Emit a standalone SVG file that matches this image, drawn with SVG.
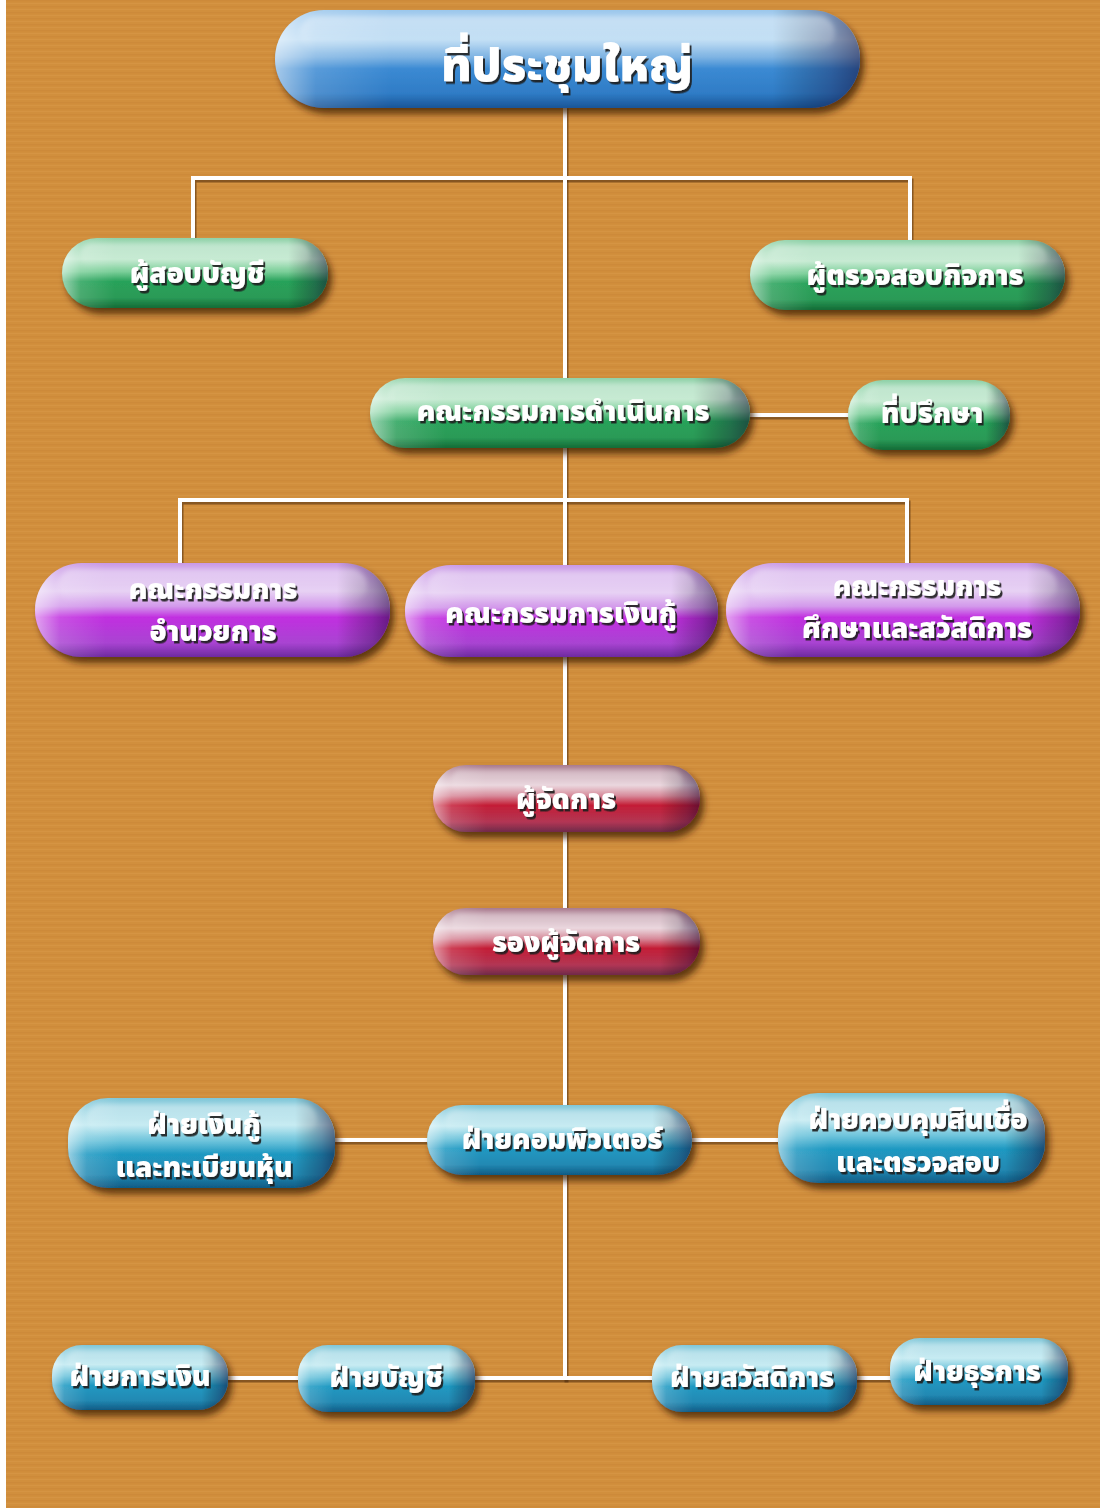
<svg xmlns="http://www.w3.org/2000/svg" width="1100" height="1508" viewBox="0 0 1100 1508">
  <defs>
    <!-- fine horizontal grain on the backdrop -->
    <pattern id="grain" width="40" height="6" patternUnits="userSpaceOnUse">
      <rect width="40" height="6" fill="#d18f3d"/>
      <rect y="0" width="40" height="1.5" fill="#c98637" opacity="0.55"/>
      <rect y="3" width="40" height="1" fill="#d9994a" opacity="0.5"/>
    </pattern>

    <filter id="drop" x="-10%" y="-20%" width="125%" height="160%">
      <feDropShadow dx="4" dy="6" stdDeviation="3.5" flood-color="#3a1e05" flood-opacity="0.75"/>
    </filter>
    <filter id="txtsh" x="-10%" y="-20%" width="120%" height="150%">
      <feDropShadow dx="2" dy="2.5" stdDeviation="0.6" flood-color="#1a1a1a" flood-opacity="0.9"/>
    </filter>
    <filter id="soft" x="-10%" y="-40%" width="120%" height="180%">
      <feGaussianBlur stdDeviation="2.5"/>
    </filter>

    <!-- body gradients, one per colour family -->
    <linearGradient id="gBlue" x1="0" y1="0" x2="0" y2="1">
      <stop offset="0" stop-color="#9cc7ec"/>
      <stop offset="0.3" stop-color="#b9daf3"/>
      <stop offset="0.48" stop-color="#7fb4e3"/>
      <stop offset="0.6" stop-color="#3b8ad3"/>
      <stop offset="0.85" stop-color="#2f7cc6"/>
      <stop offset="1" stop-color="#1b5597"/>
    </linearGradient>
    <linearGradient id="gGreen" x1="0" y1="0" x2="0" y2="1">
      <stop offset="0" stop-color="#8fd1a8"/>
      <stop offset="0.3" stop-color="#bde7cb"/>
      <stop offset="0.48" stop-color="#7ccf9a"/>
      <stop offset="0.62" stop-color="#28a25a"/>
      <stop offset="0.85" stop-color="#2a9a57"/>
      <stop offset="1" stop-color="#136b36"/>
    </linearGradient>
    <linearGradient id="gPurple" x1="0" y1="0" x2="0" y2="1">
      <stop offset="0" stop-color="#c99ae6"/>
      <stop offset="0.3" stop-color="#e3c9f2"/>
      <stop offset="0.46" stop-color="#d39aeb"/>
      <stop offset="0.58" stop-color="#c12fe0"/>
      <stop offset="0.85" stop-color="#a944d2"/>
      <stop offset="1" stop-color="#6e2aa0"/>
    </linearGradient>
    <linearGradient id="gRed" x1="0" y1="0" x2="0" y2="1">
      <stop offset="0" stop-color="#a8798d"/>
      <stop offset="0.3" stop-color="#e7d0d8"/>
      <stop offset="0.46" stop-color="#d78a9a"/>
      <stop offset="0.6" stop-color="#c41d36"/>
      <stop offset="0.85" stop-color="#b23654"/>
      <stop offset="1" stop-color="#6f2a4a"/>
    </linearGradient>
    <linearGradient id="gCyan" x1="0" y1="0" x2="0" y2="1">
      <stop offset="0" stop-color="#7fc6d8"/>
      <stop offset="0.3" stop-color="#bde8f0"/>
      <stop offset="0.48" stop-color="#6cc3db"/>
      <stop offset="0.62" stop-color="#1f99c2"/>
      <stop offset="0.85" stop-color="#2289b3"/>
      <stop offset="1" stop-color="#0f5b85"/>
    </linearGradient>

    <!-- side shading: pale glint on the left cap, deep shade on the right cap -->
    <linearGradient id="sides" x1="0" y1="0" x2="1" y2="0">
      <stop offset="0" stop-color="#ffffff" stop-opacity="0.55"/>
      <stop offset="0.07" stop-color="#ffffff" stop-opacity="0.15"/>
      <stop offset="0.2" stop-color="#ffffff" stop-opacity="0"/>
      <stop offset="0.85" stop-color="#000000" stop-opacity="0"/>
      <stop offset="0.95" stop-color="#10002a" stop-opacity="0.3"/>
      <stop offset="1" stop-color="#10002a" stop-opacity="0.5"/>
    </linearGradient>
    <linearGradient id="gloss" x1="0" y1="0" x2="0" y2="1">
      <stop offset="0" stop-color="#ffffff" stop-opacity="0.4"/>
      <stop offset="1" stop-color="#ffffff" stop-opacity="0.04"/>
    </linearGradient>

    <style>
      .line { fill: none; stroke: #ffffff; stroke-width: 4; stroke-linecap: square; }
      .lineSh { fill: none; stroke: #4a2a0c; stroke-width: 4; stroke-opacity: 0.55; stroke-linecap: square; }
      .sides { fill: url(#sides); }
      .gloss { fill: url(#gloss); filter: url(#soft); }
      .lbl { fill: #ffffff; font-family: "Noto Sans Thai", "Tahoma", "DejaVu Sans", "Noto Sans", sans-serif; font-weight: 900; text-anchor: middle; filter: url(#txtsh); }
      .xl { font-size: 46px; }
      .md { font-size: 28px; }
    </style>
  </defs>

  <!-- backdrop -->
  <rect width="1100" height="1508" fill="#ffffff"/>
  <rect x="6" y="0" width="1094" height="1508" fill="url(#grain)"/>

  <!-- connectors -->
  <g id="connectors">
    <g transform="translate(1.5,2.5)">
      <path class="lineSh" d="M565 108 V1378"/>
      <path class="lineSh" d="M193 240 V178 H910 V240"/>
      <path class="lineSh" d="M750 415 H850"/>
      <path class="lineSh" d="M180 565 V500 H907 V565"/>
      <path class="lineSh" d="M335 1140 H780"/>
      <path class="lineSh" d="M228 1378 H892"/>
    </g>
    <path class="line" d="M565 108 V1378"/>
    <path class="line" d="M193 240 V178 H910 V240"/>
    <path class="line" d="M750 415 H850"/>
    <path class="line" d="M180 565 V500 H907 V565"/>
    <path class="line" d="M335 1140 H780"/>
    <path class="line" d="M228 1378 H892"/>
  </g>

  <!-- top: general meeting -->
  <g id="n-general-meeting">
    <rect x="275" y="10" width="585" height="98" rx="49" fill="url(#gBlue)" filter="url(#drop)"/>
    <rect x="275" y="10" width="585" height="98" rx="49" class="sides"/>
    <rect x="300" y="16" width="535" height="34" rx="17" class="gloss"/>
    <text class="lbl xl" x="567" y="81">ที่ประชุมใหญ่</text>
  </g>

  <g id="n-auditor">
    <rect x="62" y="238" width="266" height="70" rx="35" fill="url(#gGreen)" filter="url(#drop)"/>
    <rect x="62" y="238" width="266" height="70" rx="35" class="sides"/>
    <rect x="80" y="243" width="230" height="24" rx="12" class="gloss"/>
    <text class="lbl md" x="197" y="283">ผู้สอบบัญชี</text>
  </g>

  <g id="n-inspector">
    <rect x="750" y="240" width="315" height="70" rx="35" fill="url(#gGreen)" filter="url(#drop)"/>
    <rect x="750" y="240" width="315" height="70" rx="35" class="sides"/>
    <rect x="768" y="245" width="279" height="24" rx="12" class="gloss"/>
    <text class="lbl md" x="915" y="285">ผู้ตรวจสอบกิจการ</text>
  </g>

  <g id="n-board">
    <rect x="370" y="378" width="380" height="70" rx="35" fill="url(#gGreen)" filter="url(#drop)"/>
    <rect x="370" y="378" width="380" height="70" rx="35" class="sides"/>
    <rect x="388" y="383" width="344" height="24" rx="12" class="gloss"/>
    <text class="lbl md" x="563" y="421">คณะกรรมการดำเนินการ</text>
  </g>

  <g id="n-advisor">
    <rect x="848" y="380" width="162" height="70" rx="35" fill="url(#gGreen)" filter="url(#drop)"/>
    <rect x="848" y="380" width="162" height="70" rx="35" class="sides"/>
    <rect x="864" y="385" width="130" height="24" rx="12" class="gloss"/>
    <text class="lbl md" x="932" y="423">ที่ปรึกษา</text>
  </g>

  <g id="n-exec-committee">
    <rect x="35" y="563" width="355" height="94" rx="47" fill="url(#gPurple)" filter="url(#drop)"/>
    <rect x="35" y="563" width="355" height="94" rx="47" class="sides"/>
    <rect x="58" y="569" width="309" height="32" rx="16" class="gloss"/>
    <text class="lbl md" x="213" y="599">คณะกรรมการ</text>
    <text class="lbl md" x="213" y="641">อำนวยการ</text>
  </g>

  <g id="n-loan-committee">
    <rect x="405" y="565" width="313" height="92" rx="46" fill="url(#gPurple)" filter="url(#drop)"/>
    <rect x="405" y="565" width="313" height="92" rx="46" class="sides"/>
    <rect x="428" y="571" width="267" height="31" rx="15" class="gloss"/>
    <text class="lbl md" x="561" y="623">คณะกรรมการเงินกู้</text>
  </g>

  <g id="n-welfare-committee">
    <rect x="726" y="563" width="354" height="94" rx="47" fill="url(#gPurple)" filter="url(#drop)"/>
    <rect x="726" y="563" width="354" height="94" rx="47" class="sides"/>
    <rect x="749" y="569" width="308" height="32" rx="16" class="gloss"/>
    <text class="lbl md" x="917" y="596">คณะกรรมการ</text>
    <text class="lbl md" x="917" y="638">ศึกษาและสวัสดิการ</text>
  </g>

  <g id="n-manager">
    <rect x="433" y="765" width="267" height="67" rx="33" fill="url(#gRed)" filter="url(#drop)"/>
    <rect x="433" y="765" width="267" height="67" rx="33" class="sides"/>
    <rect x="450" y="770" width="233" height="22" rx="11" class="gloss"/>
    <text class="lbl md" x="566" y="809">ผู้จัดการ</text>
  </g>

  <g id="n-deputy-manager">
    <rect x="433" y="908" width="267" height="67" rx="33" fill="url(#gRed)" filter="url(#drop)"/>
    <rect x="433" y="908" width="267" height="67" rx="33" class="sides"/>
    <rect x="450" y="913" width="233" height="22" rx="11" class="gloss"/>
    <text class="lbl md" x="566" y="952">รองผู้จัดการ</text>
  </g>

  <g id="n-loans-shares">
    <rect x="68" y="1098" width="267" height="90" rx="40" fill="url(#gCyan)" filter="url(#drop)"/>
    <rect x="68" y="1098" width="267" height="90" rx="40" class="sides"/>
    <rect x="86" y="1104" width="231" height="30" rx="15" class="gloss"/>
    <text class="lbl md" x="204" y="1134">ฝ่ายเงินกู้</text>
    <text class="lbl md" x="204" y="1177">และทะเบียนหุ้น</text>
  </g>

  <g id="n-computer">
    <rect x="427" y="1105" width="265" height="70" rx="35" fill="url(#gCyan)" filter="url(#drop)"/>
    <rect x="427" y="1105" width="265" height="70" rx="35" class="sides"/>
    <rect x="444" y="1110" width="231" height="24" rx="12" class="gloss"/>
    <text class="lbl md" x="562" y="1149">ฝ่ายคอมพิวเตอร์</text>
  </g>

  <g id="n-credit-control">
    <rect x="778" y="1093" width="267" height="90" rx="40" fill="url(#gCyan)" filter="url(#drop)"/>
    <rect x="778" y="1093" width="267" height="90" rx="40" class="sides"/>
    <rect x="796" y="1099" width="231" height="30" rx="15" class="gloss"/>
    <text class="lbl md" x="918" y="1129">ฝ่ายควบคุมสินเชื่อ</text>
    <text class="lbl md" x="918" y="1172">และตรวจสอบ</text>
  </g>

  <g id="n-finance">
    <rect x="52" y="1345" width="176" height="65" rx="30" fill="url(#gCyan)" filter="url(#drop)"/>
    <rect x="52" y="1345" width="176" height="65" rx="30" class="sides"/>
    <rect x="66" y="1350" width="148" height="22" rx="11" class="gloss"/>
    <text class="lbl md" x="140" y="1386">ฝ่ายการเงิน</text>
  </g>

  <g id="n-accounting">
    <rect x="298" y="1345" width="177" height="67" rx="30" fill="url(#gCyan)" filter="url(#drop)"/>
    <rect x="298" y="1345" width="177" height="67" rx="30" class="sides"/>
    <rect x="312" y="1350" width="149" height="22" rx="11" class="gloss"/>
    <text class="lbl md" x="386" y="1387">ฝ่ายบัญชี</text>
  </g>

  <g id="n-welfare">
    <rect x="652" y="1345" width="205" height="67" rx="30" fill="url(#gCyan)" filter="url(#drop)"/>
    <rect x="652" y="1345" width="205" height="67" rx="30" class="sides"/>
    <rect x="666" y="1350" width="177" height="22" rx="11" class="gloss"/>
    <text class="lbl md" x="752" y="1387">ฝ่ายสวัสดิการ</text>
  </g>

  <g id="n-admin">
    <rect x="890" y="1338" width="178" height="67" rx="30" fill="url(#gCyan)" filter="url(#drop)"/>
    <rect x="890" y="1338" width="178" height="67" rx="30" class="sides"/>
    <rect x="904" y="1343" width="150" height="22" rx="11" class="gloss"/>
    <text class="lbl md" x="977" y="1381">ฝ่ายธุรการ</text>
  </g>
</svg>
